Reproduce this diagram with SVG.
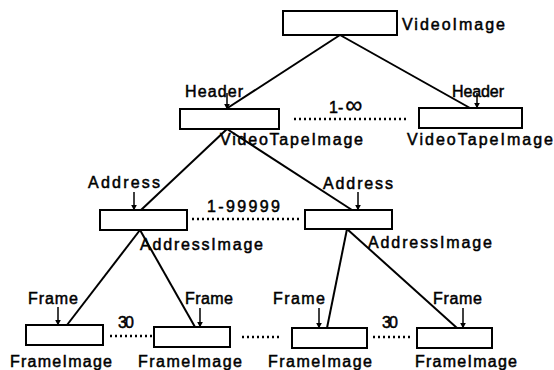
<svg xmlns="http://www.w3.org/2000/svg" width="554" height="370" viewBox="0 0 554 370">
<defs>
<marker id="ah" viewBox="0 0 10 10" refX="9" refY="5" markerWidth="6" markerHeight="6" orient="auto" markerUnits="userSpaceOnUse">
<path d="M0,0 L10,5 L0,10 z" fill="#000"/>
</marker>
<style>
.box{fill:#fff;stroke:#000;stroke-width:2}
.ln{stroke:#000;stroke-width:2;fill:none}
.ar{stroke:#000;stroke-width:1.5;fill:none;marker-end:url(#ah)}
.dot{stroke:#000;stroke-width:2.5;fill:none;stroke-dasharray:2 3}
text{font-family:"Liberation Sans",Arial,sans-serif;font-size:16px;fill:#000;stroke:#000;stroke-width:0.5}
</style>
</defs>
<rect width="554" height="370" fill="#fff"/>
<g id="connectors">
<line class="ln" x1="340" y1="35" x2="226" y2="109"/>
<line class="ln" x1="340" y1="35" x2="470" y2="108"/>
<line class="ln" x1="227" y1="129" x2="141" y2="210"/>
<line class="ln" x1="227" y1="129" x2="352" y2="210"/>
<line class="ln" x1="140" y1="230" x2="67" y2="325"/>
<line class="ln" x1="140" y1="230" x2="195" y2="327"/>
<line class="ln" x1="347" y1="229" x2="327" y2="328"/>
<line class="ln" x1="347" y1="229" x2="457" y2="328"/>
<line class="ar" x1="227" y1="93" x2="227" y2="109"/>
<line class="ar" x1="477" y1="93" x2="477" y2="108"/>
<line class="ar" x1="134" y1="192" x2="134" y2="210"/>
<line class="ar" x1="358" y1="192" x2="358" y2="210"/>
<line class="ar" x1="58" y1="307" x2="58" y2="325"/>
<line class="ar" x1="200" y1="308" x2="200" y2="327"/>
<line class="ar" x1="319" y1="308" x2="319" y2="328"/>
<line class="ar" x1="463" y1="308" x2="463" y2="328"/>
<line class="dot" x1="294" y1="119" x2="406" y2="119"/>
<line class="dot" x1="192" y1="219" x2="302" y2="219"/>
<line class="dot" x1="110" y1="336" x2="152" y2="336"/>
<line class="dot" x1="242" y1="337" x2="282" y2="337"/>
<line class="dot" x1="373" y1="337" x2="413" y2="337"/>
</g>
<g id="videoimage">
<rect class="box" x="283" y="11" width="114" height="24"/>
<text x="402" y="30" font-size="17" textLength="103" lengthAdjust="spacing">VideoImage</text>
</g>
<g id="vti-left">
<rect class="box" x="180" y="109" width="99" height="20"/>
<text x="185" y="97" textLength="58" lengthAdjust="spacing">Header</text>
<text x="220" y="145" textLength="143" lengthAdjust="spacing">VideoTapeImage</text>
</g>
<g id="vti-right">
<rect class="box" x="419" y="108" width="103" height="20"/>
<text x="452" y="97" textLength="52" lengthAdjust="spacing">Header</text>
<text x="407" y="145" textLength="146" lengthAdjust="spacing">VideoTapeImage</text>
</g>
<g id="vti-mult">
<text x="329" y="113">1-<tspan font-size="24" stroke-width="0.3" dx="2">∞</tspan></text>
</g>
<g id="addr-left">
<rect class="box" x="100" y="210" width="87" height="20"/>
<text x="88" y="188" textLength="72" lengthAdjust="spacing">Address</text>
<text x="140" y="250" textLength="123" lengthAdjust="spacing">AddressImage</text>
</g>
<g id="addr-right">
<rect class="box" x="305" y="210" width="87" height="19"/>
<text x="323" y="189" textLength="70" lengthAdjust="spacing">Address</text>
<text x="368" y="248" textLength="124" lengthAdjust="spacing">AddressImage</text>
</g>
<g id="addr-mult">
<text x="207" y="212" font-size="17" textLength="73" lengthAdjust="spacing">1-99999</text>
</g>
<g id="frame1">
<rect class="box" x="26" y="325" width="77" height="20"/>
<text x="28" y="304" textLength="50" lengthAdjust="spacing">Frame</text>
<text x="10" y="367" textLength="102" lengthAdjust="spacing">FrameImage</text>
</g>
<g id="frame2">
<rect class="box" x="154" y="327" width="76" height="20"/>
<text x="185" y="304" textLength="48" lengthAdjust="spacing">Frame</text>
<text x="138" y="367" textLength="104" lengthAdjust="spacing">FrameImage</text>
</g>
<g id="frame3">
<rect class="box" x="292" y="328" width="75" height="20"/>
<text x="273" y="304" textLength="52" lengthAdjust="spacing">Frame</text>
<text x="268" y="367" textLength="104" lengthAdjust="spacing">FrameImage</text>
</g>
<g id="frame4">
<rect class="box" x="417" y="328" width="75" height="20"/>
<text x="433" y="304" textLength="49" lengthAdjust="spacing">Frame</text>
<text x="415" y="367" textLength="102" lengthAdjust="spacing">FrameImage</text>
</g>
<g id="frame-mult">
<text x="118" y="328" font-size="17" textLength="16" lengthAdjust="spacing">30</text>
<text x="382" y="328" font-size="17" textLength="16" lengthAdjust="spacing">30</text>
</g>
</svg>
